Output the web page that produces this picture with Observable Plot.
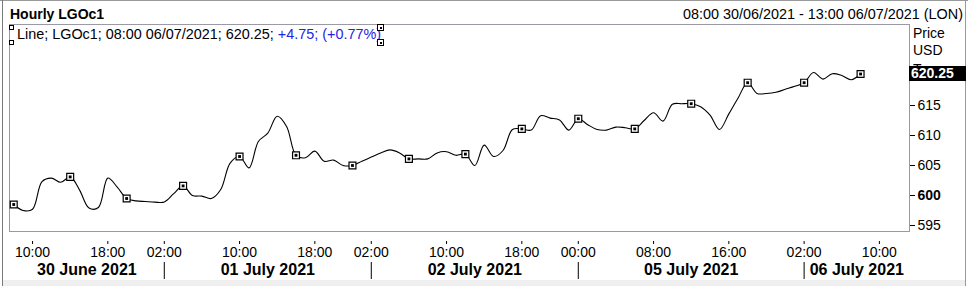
<!DOCTYPE html>
<html><head><meta charset="utf-8">
<script src="https://cdn.jsdelivr.net/npm/d3@7"></script>
<script src="https://cdn.jsdelivr.net/npm/@observablehq/plot@0.6"></script>
<style>
body{margin:0;background:#fff;font-family:"Liberation Sans",Arial,sans-serif;}
#wrap{position:relative;width:968px;height:286px;overflow:hidden;background:#fff;}
.abs{position:absolute;white-space:nowrap;line-height:1;color:#000;}
.h{position:absolute;box-sizing:border-box;border:1px solid #000;background:#fff;}
</style></head><body>
<div id="wrap">
  <div id="chart" style="position:absolute;left:0;top:0"></div>
  <div style="position:absolute;left:0;top:0;width:968px;height:1px;background:#9a9a9a"></div>
  <div style="position:absolute;left:2px;top:0;width:1px;height:286px;background:#7a7a7a"></div>
  <div style="position:absolute;left:965px;top:0;width:1px;height:286px;background:#9a9a9a"></div>
  <div style="position:absolute;left:3px;top:280px;width:962px;height:6px;background:#efefef"></div>
  <div class="abs" style="left:10px;top:7px;font-weight:bold;font-size:14px">Hourly LGOc1</div>
  <div class="abs" style="right:5px;top:7px;font-size:14.4px">08:00 30/06/2021 - 13:00 06/07/2021 (LON)</div>
  <div class="abs" style="left:17px;top:27px;font-size:14.4px">Line; LGOc1; 08:00 06/07/2021; 620.25; <span style="color:#2424e6">+4.75; (+0.77%)</span></div>
  <div class="h" style="left:9px;top:25px;width:5px;height:5px"></div>
  <div class="h" style="left:9px;top:40px;width:5px;height:5px"></div>
  <div class="h" style="left:377px;top:24px;width:7px;height:7px"><div style="position:absolute;left:1.5px;top:1.5px;width:2px;height:2px;background:#000"></div></div>
  <div class="h" style="left:377px;top:39px;width:7px;height:7px"><div style="position:absolute;left:1.5px;top:1.5px;width:2px;height:2px;background:#000"></div></div>
  <div class="abs" style="left:913px;top:25.5px;font-size:14px">Price</div>
  <div class="abs" style="left:913px;top:43px;font-size:14px">USD</div>
  <div style="position:absolute;left:913px;top:60px;height:6px;overflow:hidden"><div class="abs" style="position:relative;top:2px;font-size:14px">T</div></div>
  <div id="last" class="abs" style="left:909px;width:57px;height:15px;background:#000;color:#fff;font-weight:bold;font-size:14px;line-height:15px;padding-left:2px;box-sizing:border-box"></div>
</div>
<script>
// Trading sessions (day, first hour, last hour) — hourly category slots
const sessions = [["30/06", 8, 22], ["01/07", 1, 22], ["02/07", 1, 22], ["04/07", 23, 23], ["05/07", 0, 22], ["06/07", 1, 13]];
// Hourly LGOc1 prices, 08:00 30/06 .. 08:00 06/07
const prices = [
  598.5, 597.5, 597.7, 602.3, 602.9, 602.2, 603.1, 600.9, 597.9, 598.0,
  602.9, 601.4, 599.5, 599.1, 599.0, 598.9, 598.9, 600.3, 601.6, 600.0,
  599.9, 599.5, 601.0, 605.4, 606.5, 604.6, 609.0, 610.4, 613.2, 611.5,
  606.7, 606.3, 607.4, 605.7, 605.9, 605.0, 605.0, 605.7, 606.4, 607.1,
  607.6, 607.1, 606.1, 606.1, 606.1, 607.1, 607.3, 606.7, 606.9, 605.0,
  608.4, 606.5, 607.5, 611.0, 611.1, 610.9, 613.3, 612.9, 612.6, 610.9,
  612.8, 611.8, 611.0, 610.9, 611.4, 611.3, 611.1, 612.5, 613.8, 612.4,
  615.2, 615.3, 615.3, 614.8, 613.4, 611.0, 613.6, 616.3, 618.8, 617.0,
  617.0, 617.2, 617.7, 618.2, 618.8, 620.5, 619.4, 620.3, 620.0, 619.3,
  620.25
];
const lastPrice = 620.25;
// X tick labels (day, hour)
const xTicks = [["30/06","10:00"],["30/06","18:00"],["01/07","02:00"],["01/07","10:00"],["01/07","18:00"],
  ["02/07","02:00"],["02/07","10:00"],["02/07","18:00"],["05/07","00:00"],["05/07","08:00"],["05/07","16:00"],
  ["06/07","02:00"],["06/07","10:00"]];
const dayKeys = ["30/06", "01/07", "02/07", "05/07", "06/07"];
const dayNames = ["30 June 2021", "01 July 2021", "02 July 2021", "05 July 2021", "06 July 2021"];
const yTicks = [595, 605, 610, 615];
const yTickBold = [600];

const slots = sessions.flatMap(([day, a, b]) => d3.range(a, b + 1).map(h => ({day, hour: String(h).padStart(2, "0") + ":00"})));
const data = prices.map((p, i) => ({i, p}));
const tickIdx = xTicks.map(([d, h]) => slots.findIndex(s => s.day === d && s.hour === h));
const sepIdx = dayKeys.slice(1).map(k => tickIdx[xTicks.findIndex(t => t[0] === k)]);
const xDomain = [-0.45, 95.2];
const bounds = [xDomain[0], ...sepIdx, xDomain[1]];
const dayLabels = dayNames.map((name, j) => ({name, c: (bounds[j] + bounds[j + 1]) / 2}));

const font = "'Liberation Sans', Arial, sans-serif";
const chart = Plot.plot({
  width: 968, height: 286,
  marginLeft: 9, marginRight: 59, marginTop: 24, marginBottom: 55,
  style: {background: "transparent", fontFamily: font, fontSize: "14px", color: "#000", overflow: "visible"},
  x: {type: "linear", domain: xDomain, label: null},
  y: {domain: [594, 628.5], label: null},
  marks: [
    Plot.frame({stroke: "#9a9aa6"}),
    Plot.line(data, {x: "i", y: "p", curve: "catmull-rom", stroke: "#000", strokeWidth: 1.1}),
    Plot.dot(data, {filter: d => d.i % 6 === 0, x: "i", y: "p", symbol: "square", r: 3.9, fill: "#fff", stroke: "#000", strokeWidth: 1.2}),
    Plot.dot(data, {filter: d => d.i % 6 === 0, x: "i", y: "p", symbol: "square", r: 1.6, fill: "#000"}),
    Plot.axisX({ticks: tickIdx, tickFormat: i => slots[i].hour, tickSize: 3, tickPadding: 3, dy: 10, fontSize: 14, stroke: "#000", label: null}),
    Plot.axisX({ticks: sepIdx, tickFormat: () => "", tickSize: 17, dy: 31, stroke: "#000", label: null}),
    Plot.text(dayLabels, {x: "c", text: "name", frameAnchor: "bottom", dy: 38.5, fontWeight: "bold", fontSize: 16, lineAnchor: "middle", fill: "#000"}),
    Plot.axisY({ticks: yTicks, anchor: "right", tickSize: 5, tickPadding: 3, fontSize: 14, tickFormat: d => String(d), label: null}),
    Plot.axisY({ticks: yTickBold, anchor: "right", tickSize: 5, tickPadding: 3, fontSize: 14, fontWeight: "bold", tickFormat: d => String(d), label: null})
  ]
});
document.getElementById("chart").appendChild(chart);
const last = document.getElementById("last");
last.textContent = lastPrice.toFixed(2);
last.style.top = (chart.scale("y").apply(lastPrice) - 7.5) + "px";
</script>
</body></html>
